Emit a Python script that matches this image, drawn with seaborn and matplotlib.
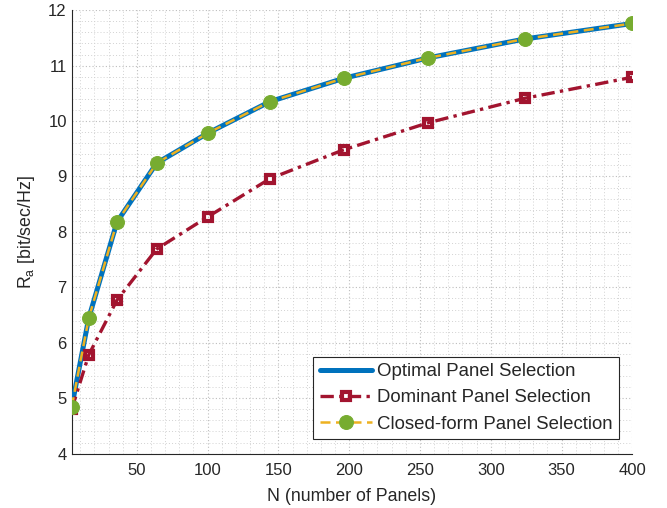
import numpy as np
import pandas as pd
import matplotlib
matplotlib.use("Agg")
import matplotlib.pyplot as plt
from matplotlib.ticker import MultipleLocator
import seaborn as sns

# ---- data ----
panels = [4, 16, 36, 64, 100, 144, 196, 256, 324, 400]
optimal = [4.84, 6.44, 8.18, 9.24, 9.78, 10.35, 10.77, 11.14, 11.48, 11.76]
dominant = [4.80, 5.78, 6.77, 7.69, 8.27, 8.96, 9.48, 9.97, 10.41, 10.79]
closed_form = [4.84, 6.44, 8.18, 9.24, 9.78, 10.35, 10.77, 11.14, 11.48, 11.76]
labels = ["Optimal Panel Selection", "Dominant Panel Selection", "Closed-form Panel Selection"]
x_ticks = [50, 100, 150, 200, 250, 300, 350, 400]
y_ticks = [4, 5, 6, 7, 8, 9, 10, 11, 12]

sns.set_style("white")
plt.rcParams["font.family"] = ["Liberation Sans", "DejaVu Sans"]
plt.rcParams["mathtext.fontset"] = "custom"
plt.rcParams["mathtext.rm"] = "Liberation Sans"
plt.rcParams["mathtext.it"] = "Liberation Sans:italic"

fig = plt.figure(figsize=(6.67, 5.08), dpi=100)
ax = fig.add_axes([0.1075, 0.107, 0.8405, 0.873])

blue = (0.0, 0.447, 0.741)
red = (0.635, 0.078, 0.184)
yellow = (0.929, 0.694, 0.125)
green = (0.466, 0.674, 0.188)

df = pd.DataFrame({"N": panels, "opt": optimal, "dom": dominant, "cf": closed_form})

sns.lineplot(data=df, x="N", y="opt", ax=ax, color=blue, linewidth=3.6,
             label=labels[0], zorder=3)
sns.lineplot(data=df, x="N", y="dom", ax=ax, color=red, linewidth=2.4,
             linestyle=(0, (4, 1.6, 1, 1.6)), marker="s", markersize=6,
             markerfacecolor="none", markeredgecolor=red, markeredgewidth=3.0,
             label=labels[1], zorder=3)
sns.lineplot(data=df, x="N", y="cf", ax=ax, color=yellow, linewidth=1.8,
             linestyle=(0, (4.0, 2.2)), marker="o", markersize=10,
             markerfacecolor=green, markeredgecolor=green,
             label=labels[2], zorder=4)

ax.set_xlim(4, 400)
ax.set_ylim(4, 12)
ax.set_xticks(x_ticks)
ax.set_yticks(y_ticks)
ax.xaxis.set_minor_locator(MultipleLocator(10))
ax.yaxis.set_minor_locator(MultipleLocator(0.2))

ax.grid(True, which="major", linestyle=(0, (1, 2)), color="#bdbdbd", linewidth=0.8)
ax.grid(True, which="minor", linestyle=(0, (1, 2.2)), color="#d2d2d2", linewidth=0.7)
ax.set_axisbelow(True)

for s in ["top", "right"]:
    ax.spines[s].set_visible(False)
for s in ["left", "bottom"]:
    ax.spines[s].set_color("#262626")
    ax.spines[s].set_linewidth(0.8)

ax.tick_params(which="major", direction="in", length=5, width=0.8,
               colors="#262626", labelsize=12, labelcolor="#262626")
ax.tick_params(which="minor", length=0)
ax.tick_params(axis="x", pad=7)

ax.set_xlabel("N (number of Panels)", fontsize=12.8, color="#262626", labelpad=7)
ax.set_ylabel(r"R$_{\mathrm{a}}$ [bit/sec/Hz]", fontsize=12.8, color="#262626", labelpad=8)

leg = ax.legend(loc="lower right", bbox_to_anchor=(0.9763, 0.0325), fontsize=13.4,
                frameon=True, fancybox=False, edgecolor="#262626",
                framealpha=1, handlelength=2.8, borderpad=0.35,
                labelspacing=0.5, handletextpad=0.28, borderaxespad=0.0)
leg.get_frame().set_linewidth(0.8)

fig.savefig("out.png", dpi=100)
